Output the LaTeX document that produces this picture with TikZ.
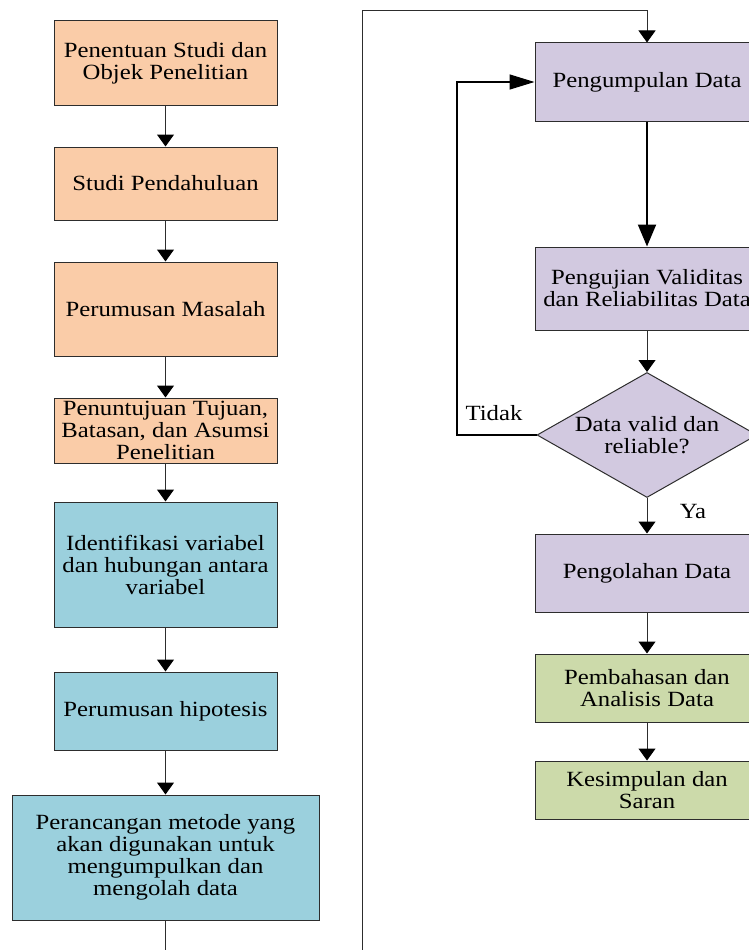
\documentclass[tikz,border=0pt]{standalone}
\usepackage{fontspec}
\setmainfont{Liberation Serif}[FakeStretch=1.14]
\usepackage{tikz}
\usetikzlibrary{
    shapes.geometric,      % Diamond for the decision
    arrows.meta            % Triangle arrow tips
}
\definecolor{StageOrange}{RGB}{250,204,168}
\definecolor{StageBlue}{RGB}{155,208,221}
\definecolor{StagePurple}{RGB}{210,201,224}
\definecolor{StageGreen}{RGB}{204,218,170}
\definecolor{EdgeGray}{RGB}{45,45,45}
\tikzset{stage box/.style={
    rectangle,
    draw=EdgeGray,
    line width=1pt,
    align=center,
    inner sep=0pt,
    minimum width=223pt,
    font=\fontsize{21.7}{22}\selectfont
}}
\tikzset{stage box orange/.style={stage box, fill=StageOrange}}
\tikzset{stage box blue/.style={stage box, fill=StageBlue}}
\tikzset{stage box purple/.style={stage box, fill=StagePurple, minimum width=224pt}}
\tikzset{stage box green/.style={stage box, fill=StageGreen, minimum width=224pt}}
\tikzset{decision/.style={
    diamond,
    draw=EdgeGray,
    line width=1pt,
    fill=StagePurple,
    align=center,
    inner sep=0pt,
    aspect=1.76,
    minimum width=220pt,
    minimum height=125pt,
    font=\fontsize{21.7}{22}\selectfont
}}
\tikzset{answer/.style={font=\fontsize{21.7}{22}\selectfont}}
\tikzset{flow arrow/.style={
    draw=EdgeGray,
    line width=1pt,
    -{Triangle[length=12pt,width=17pt,color=black]}
}}
\tikzset{flow arrow thick/.style={
    draw=black,
    line width=2pt,
    -{Triangle[length=22pt,width=18pt]}
}}
\tikzset{flow arrow loop/.style={
    draw=black,
    line width=1.5pt,
    -{Triangle[length=25pt,width=15pt]}
}}

\begin{document}
\begin{tikzpicture}[x=1pt,y=-1pt]
    \useasboundingbox (0,0) rectangle (749,950);
    \clip (0,0) rectangle (749,950);

    % left column
    \node[stage box orange, minimum height=84pt] (penentuan) at (165.5,63) {Penentuan Studi dan\\Objek Penelitian};
    \node[stage box orange, minimum height=73pt] (studi) at (165.5,183.5) {Studi Pendahuluan};
    \node[stage box orange, minimum height=94pt] (masalah) at (165.5,309) {Perumusan Masalah};
    \node[stage box orange, minimum height=65pt] (tujuan) at (165.5,430.5) {Penuntujuan Tujuan,\\Batasan, dan Asumsi\\Penelitian};
    \node[stage box blue, minimum height=125pt] (variabel) at (165.5,564.5) {Identifikasi variabel\\dan hubungan antara\\variabel};
    \node[stage box blue, minimum height=78pt] (hipotesis) at (165.5,711) {Perumusan hipotesis};
    \node[stage box blue, minimum height=125pt, minimum width=307pt] (metode) at (165.5,857.5) {Perancangan metode yang\\akan digunakan untuk\\mengumpulkan dan\\mengolah data};

    % right column
    \node[stage box purple, minimum height=78pt] (pengumpulan) at (647,82) {Pengumpulan Data};
    \node[stage box purple, minimum height=83pt] (pengujian) at (647,288.5) {Pengujian Validitas\\dan Reliabilitas Data};
    \node[decision] (cek) at (647,435) {Data valid dan\\reliable?};
    \node[stage box purple, minimum height=78pt] (pengolahan) at (647,573) {Pengolahan Data};
    \node[stage box green, minimum height=68pt] (pembahasan) at (647,688) {Pembahasan dan\\Analisis Data};
    \node[stage box green, minimum height=58pt] (kesimpulan) at (647,790) {Kesimpulan dan\\Saran};

    \node[answer] (tidak) at (494,413) {Tidak};
    \node[answer] (ya) at (693,511) {Ya};

    \coordinate (bawah) at (165.5,990);
    \coordinate (atas) at (362,11);
    \coordinate (balik) at (457,435);

    \draw[flow arrow] (penentuan) -- (studi);
    \draw[flow arrow] (studi) -- (masalah);
    \draw[flow arrow] (masalah) -- (tujuan);
    \draw[flow arrow] (tujuan) -- (variabel);
    \draw[flow arrow] (variabel) -- (hipotesis);
    \draw[flow arrow] (hipotesis) -- (metode);
    \draw[flow arrow] (metode.south) -- (bawah) -| (atas) -| (pengumpulan.north);

    \draw[flow arrow thick] (pengumpulan) -- (pengujian);
    \draw[flow arrow] (pengujian) -- (cek);
    \draw[flow arrow loop] (cek.west) -- (balik) |- (pengumpulan.west);
    \draw[flow arrow] (cek) -- (pengolahan);
    \draw[flow arrow] (pengolahan) -- (pembahasan);
    \draw[flow arrow] (pembahasan) -- (kesimpulan);
\end{tikzpicture}
\end{document}
